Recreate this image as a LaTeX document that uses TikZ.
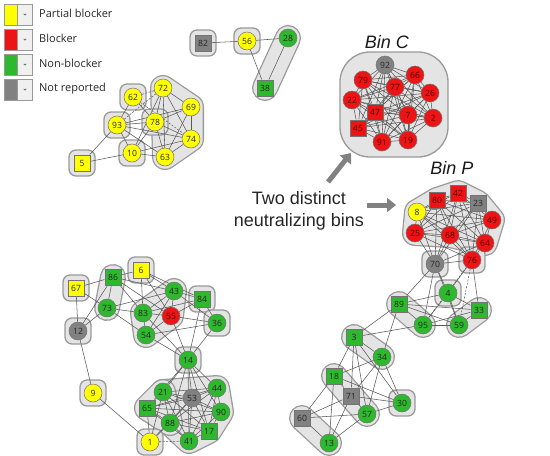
\documentclass[tikz,border=0pt]{standalone}
\usepackage{fontspec}
\setmainfont{Open Sans}
\newfontfamily\arialfont{Liberation Sans}
\usepackage{tikz}
\usetikzlibrary{arrows.meta}
\usetikzlibrary{positioning}

\definecolor{cyel}{HTML}{FFFF00}
\definecolor{cred}{HTML}{EC1414}
\definecolor{cgrn}{HTML}{2DB82D}
\definecolor{cgry}{HTML}{818181}
\definecolor{hullfill}{HTML}{E4E4E4}
\definecolor{hullline}{HTML}{9A9A9A}
\definecolor{linkcol}{HTML}{5A5A5A}

\pgfdeclarelayer{hulls}
\pgfdeclarelayer{links}
\pgfsetlayers{hulls,links,main}

\tikzset{
    ab/.style={circle, draw=black!55, line width=0.5pt, minimum size=18pt, inner sep=0pt,
        font=\fontsize{8.6}{9}\selectfont, text=black!85},
    absq/.style={ab, rectangle, minimum size=16.5pt},
    pb/.style={ab, fill=cyel},   pbsq/.style={absq, fill=cyel},
    bl/.style={ab, fill=cred, text=red!35!black}, blsq/.style={absq, fill=cred, text=red!35!black},
    nb/.style={ab, fill=cgrn},   nbsq/.style={absq, fill=cgrn},
    nr/.style={ab, fill=cgry},   nrsq/.style={absq, fill=cgry},
    link/.style={draw=linkcol, line width=0.55pt},
    weak/.style={link, dash pattern=on 2pt off 1.5pt},
    hullout/.style={draw=hullline, fill=hullline, line width=26pt, line join=round, line cap=round},
    hullin/.style={draw=hullfill, fill=hullfill, line width=23.4pt, line join=round, line cap=round},
    hullsq/.style={draw=hullline, fill=hullfill, line width=1.3pt, rounded corners=7pt},
    keycol/.style={rectangle, draw=black!40, line width=0.5pt, minimum width=13pt, minimum height=21pt, inner sep=0pt},
    keydrop/.style={rectangle, draw=black!40, line width=0.5pt, fill=black!6, minimum width=15pt, minimum height=21pt, inner sep=0pt},
    keytxt/.style={font=\fontsize{11}{13}\selectfont, text=black!85, inner sep=0pt},
    binlbl/.style={font=\arialfont\itshape\fontsize{18}{21}\selectfont, text=black!90},
    bintxt/.style={font=\arialfont\fontsize{18}{21.5}\selectfont, text=black!85, align=center},
    binarrow/.style={draw=cgry, line width=5pt, -{Triangle[length=9pt,width=14pt]}},
}
\newcommand{\hullpath}[1]{\path[hullout] #1; \path[hullin] #1;}
\newcommand{\hullbox}[1]{\path[hullsq] ([shift={(-13,-13)}]#1.center) rectangle ([shift={(13,13)}]#1.center);}

\begin{document}
\begin{tikzpicture}[x=1pt, y=-1pt]
	\useasboundingbox (0,0) rectangle (550,456);
	% legend
	\foreach \c/\t [count=\k] in {cyel/Partial blocker, cred/Blocker, cgrn/Non-blocker, cgry/Not reported}{
		\node[keycol, fill=\c] (key\k) at (10.5,{14.5+25*(\k-1)}) {};
		\node[keydrop, right=0pt of key\k] (drop\k) {};
		\fill[black!55] ([shift={(-1.6,-0.6)}]drop\k.center) -- ++(3.2,0) -- ++(-1.6,1.6) -- cycle;
		\node[keytxt, anchor=west] (txt\k) at (39,{13.5+25*(\k-1)}) {\t};
	}
	% top middle
	\node[nrsq] (n82) at (203,43) {82};
	\node[pb] (n56) at (247,41) {56};
	\node[nb] (n28) at (288,38) {28};
	\node[nbsq] (n38) at (265,88) {38};
	% top left
	\node[pb] (n62) at (133,97) {62};
	\node[pb] (n72) at (163,88) {72};
	\node[pb] (n69) at (191,107) {69};
	\node[pb] (n93) at (117,125) {93};
	\node[pb] (n78) at (155,122) {78};
	\node[pb] (n74) at (191,139) {74};
	\node[pb] (n10) at (132,153) {10};
	\node[pb] (n63) at (165,157) {63};
	\node[pbsq] (n5) at (82,163) {5};
	% bin C
	\node[nr] (n92) at (385,65) {92};
	\node[bl] (n66) at (415,75) {66};
	\node[bl] (n79) at (363,80) {79};
	\node[bl] (n77) at (395,87) {77};
	\node[bl] (n26) at (430,93) {26};
	\node[bl] (n22) at (352,100) {22};
	\node[blsq] (n47) at (375,112) {47};
	\node[bl] (n7) at (408,115) {7};
	\node[bl] (n2) at (433,118) {2};
	\node[blsq] (n45) at (358,128) {45};
	\node[bl] (n91) at (382,142) {91};
	\node[bl] (n19) at (408,140) {19};
	\node[binlbl] (lblC) at (387,42) {Bin C};
	% bin P
	\node[blsq] (n80) at (437,200) {80};
	\node[blsq] (n42) at (458,193) {42};
	\node[nrsq] (n23) at (478,203) {23};
	\node[pb] (n8) at (417,212) {8};
	\node[bl] (n49) at (492,220) {49};
	\node[bl] (n25) at (415,233) {25};
	\node[bl] (n68) at (450,235) {68};
	\node[bl] (n64) at (485,243) {64};
	\node[bl] (n76) at (472,260) {76};
	\node[nr] (n70) at (435,264) {70};
	\node[binlbl] (lblP) at (452,168) {Bin P};
	% bottom right
	\node[nb] (n4) at (448,293) {4};
	\node[nbsq] (n89) at (399,304) {89};
	\node[nbsq] (n33) at (479,310) {33};
	\node[nb] (n95) at (423,325) {95};
	\node[nb] (n59) at (459,325) {59};
	\node[nbsq] (n3) at (354,337) {3};
	\node[nb] (n34) at (382,357) {34};
	\node[nbsq] (n18) at (334,376) {18};
	\node[nrsq] (n71) at (351,396) {71};
	\node[nb] (n30) at (402,403) {30};
	\node[nb] (n57) at (367,414) {57};
	\node[nrsq] (n60) at (302,418) {60};
	\node[nb] (n13) at (329,443) {13};
	% bottom left
	\node[nbsq] (n86) at (113,277) {86};
	\node[pbsq] (n6) at (141,270) {6};
	\node[pbsq] (n67) at (76,288) {67};
	\node[nb] (n43) at (174,291) {43};
	\node[nbsq] (n84) at (202,299) {84};
	\node[nb] (n73) at (107,308) {73};
	\node[nb] (n83) at (143,313) {83};
	\node[bl] (n55) at (171,316) {55};
	\node[nb] (n36) at (217,323) {36};
	\node[nr] (n12) at (78,331) {12};
	\node[nb] (n54) at (146,335) {54};
	\node[nb] (n14) at (188,360) {14};
	\node[pb] (n9) at (93,393) {9};
	\node[nb] (n21) at (163,392) {21};
	\node[nr] (n53) at (192,398) {53};
	\node[nb] (n44) at (217,388) {44};
	\node[nbsq] (n65) at (147,408) {65};
	\node[nb] (n90) at (221,412) {90};
	\node[nb] (n88) at (170,423) {88};
	\node[nbsq] (n17) at (209,431) {17};
	\node[pb] (n1) at (150,442) {1};
	\node[nb] (n41) at (189,441) {41};
	% text and arrows
	\node[bintxt] (bins) at (299,211) {Two distinct\\neutralizing bins};
	\coordinate (aC0) at (328,182);
	\coordinate (aC1) at (351,153);
	\coordinate (aP0) at (367,205);
	\coordinate (aP1) at (396,205);
	\draw[binarrow] (aC0) -- (aC1);
	\draw[binarrow] (aP0) -- (aP1);

\begin{pgfonlayer}{hulls}
	\hullbox{n82} \hullbox{n56}
	\hullpath{(n28.center)--(n38.center)}
	\hullpath{(n72.center)--(n69.center)--(n74.center)--(n63.center)--cycle}
	\hullbox{n62} \hullbox{n93} \hullbox{n10} \hullbox{n5} \hullbox{n78}
	\path[hullsq, rounded corners=30pt] (340,52) rectangle (448,157);
	\hullpath{(n8.center)--(n80.center)--(n42.center)--(n23.center)--(n49.center)--(n64.center)--(n68.center)--(n25.center)--cycle}
	\hullbox{n76} \hullbox{n70} \hullbox{n4}
	\hullpath{(n89.center)--(n95.center)}
	\hullpath{(n59.center)--(n33.center)}
	\hullpath{(n3.center)--(n34.center)}
	\hullpath{(n18.center)--(n71.center)--(n57.center)--cycle}
	\hullbox{n30}
	\hullpath{(n60.center)--(n13.center)}
	\hullbox{n67} \hullbox{n6} \hullbox{n84} \hullbox{n36} \hullbox{n12}
	\hullpath{(n86.center)--(n73.center)}
	\hullpath{(n43.center)--(n55.center)--(n54.center)--(n83.center)--cycle}
	\hullbox{n14} \hullbox{n9}
	\hullpath{(n21.center)--(n44.center)--(n90.center)--(n17.center)--(n41.center)--(n88.center)--cycle}
	\hullpath{(n21.center)--(n65.center)--(n88.center)--cycle}
	\hullbox{n1}
\end{pgfonlayer}

\begin{pgfonlayer}{links}
	% single links
	\foreach \a/\b in {82/56, 56/28, 56/38, 28/38,
		5/93, 5/10, 93/62, 93/78, 93/69, 93/74, 93/10, 93/63, 62/78, 72/78, 72/69, 72/74,
		72/63, 72/10, 69/78, 69/74, 69/63, 78/74, 78/63, 78/10, 74/63, 74/10, 10/63,
		70/8, 70/25, 70/68, 70/80, 70/42, 70/76, 70/64, 70/23,
		70/89, 70/4, 70/95, 70/59, 76/4, 76/33, 4/89, 4/33, 4/95, 4/59, 89/33, 89/95,
		89/59, 89/34, 89/3, 95/59, 95/33, 59/33, 95/3, 3/34, 3/18, 3/71, 3/57, 3/30,
		34/18, 34/71, 34/57, 34/30, 18/71, 18/60, 18/13, 18/30, 71/57, 71/60, 71/13,
		71/30, 57/30, 57/13, 60/13, 60/57,
		67/86, 67/73, 67/12, 86/6, 86/73, 86/83, 86/43, 86/55, 86/12, 6/83, 6/43, 6/55,
		6/84, 73/83, 73/12, 73/54, 73/43, 83/55, 83/43, 83/54, 83/14, 83/84, 43/55,
		43/84, 43/54, 43/36, 55/84, 55/36, 55/14, 55/54, 84/14, 84/36, 36/14, 54/14,
		54/36, 12/9, 9/1,
		14/21, 14/53, 14/44, 14/88, 14/90, 14/65, 14/41, 14/17, 1/65, 1/88, 1/53, 1/21}
		\draw[link] (n\a) -- (n\b);
	\foreach \a/\b in {62/72, 93/72, 62/74, 76/59, 76/95, 1/41}
		\draw[weak] (n\a) -- (n\b);
	% dense bins
	\foreach \grp in {{92,66,79,77,26,22,47,7,2,45,91,19},
		{80,42,23,8,49,25,68,64,76}, {21,53,44,65,90,88,17,41}}{
		\foreach \a [count=\i] in \grp{
			\foreach \b [count=\j] in \grp{
				\ifnum\j>\i \draw[link] (n\a) -- (n\b); \fi
			}
		}
	}
\end{pgfonlayer}
\end{tikzpicture}
\end{document}
